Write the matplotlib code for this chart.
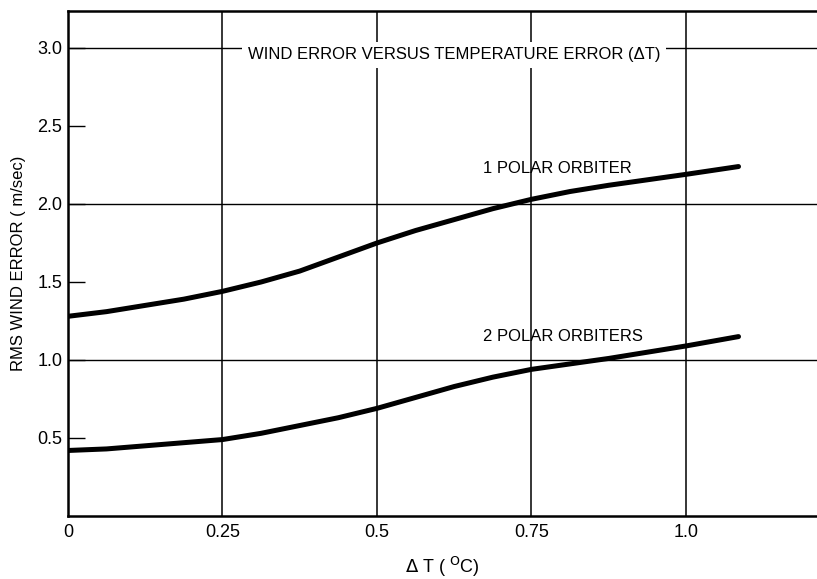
import matplotlib.pyplot as plt
import numpy as np

plt.rcParams['font.family'] = ['Liberation Sans', 'DejaVu Sans']

# curve: 1 polar orbiter
dt1 = [0, 0.0625, 0.125, 0.1875, 0.25, 0.3125, 0.375, 0.4375, 0.5, 0.5625,
       0.625, 0.6875, 0.75, 0.8125, 0.875, 0.9375, 1.0, 1.085]
err1 = [1.28, 1.31, 1.35, 1.39, 1.44, 1.50, 1.57, 1.66, 1.75, 1.83,
        1.90, 1.97, 2.03, 2.08, 2.12, 2.155, 2.19, 2.24]

# 2 polar orbiters
dt2 = [0, 0.0625, 0.125, 0.1875, 0.25, 0.3125, 0.375, 0.4375, 0.5, 0.5625,
       0.625, 0.6875, 0.75, 0.8125, 0.875, 0.9375, 1.0, 1.085]
err2 = [0.42, 0.43, 0.45, 0.47, 0.49, 0.53, 0.58, 0.63, 0.69, 0.76,
        0.83, 0.89, 0.94, 0.975, 1.01, 1.05, 1.09, 1.15]

xticks = [0, 0.25, 0.5, 0.75, 1.0]
xlabels = ['0', '0.25', '0.5', '0.75', '1.0']
yticks = [0.5, 1.0, 1.5, 2.0, 2.5, 3.0]
ylabels = ['0.5', '1.0', '1.5', '2.0', '2.5', '3.0']
grid_y = [1.0, 2.0, 3.0]

fig = plt.figure(figsize=(8.17, 5.79), dpi=100)
ax = fig.add_axes([0.0832, 0.1088, 0.9168, 0.8722])

ax.set_xlim(0, 1.212)
ax.set_ylim(0, 3.237)

for x in xticks[1:]:
    ax.axvline(x, color='k', lw=1.1, zorder=1)
for y in grid_y:
    ax.axhline(y, color='k', lw=1.0, zorder=1)

ax.plot(dt1, err1, color='k', lw=3.6, solid_capstyle='round', solid_joinstyle='round', zorder=3)
ax.plot(dt2, err2, color='k', lw=3.6, solid_capstyle='round', solid_joinstyle='round', zorder=3)

ax.text(0.625, 2.955, 'WIND ERROR VERSUS TEMPERATURE ERROR (ΔT)', ha='center', va='center',
        fontsize=12, zorder=5,
        bbox=dict(facecolor='white', edgecolor='none', pad=4))
ax.text(0.672, 2.23, '1 POLAR ORBITER', ha='left', va='center', fontsize=12, zorder=5)
ax.text(0.672, 1.15, '2 POLAR ORBITERS', ha='left', va='center', fontsize=12, zorder=5)

ax.set_xticks(xticks)
ax.set_xticklabels(xlabels)
ax.set_yticks(yticks)
ax.set_yticklabels(ylabels)
ax.tick_params(axis='x', length=0, pad=6, labelsize=13)
ax.tick_params(axis='y', direction='in', length=12, width=1.0, pad=4, labelsize=13)

ax.set_xlabel(r'$\Delta$ T ( $^{\rm O}$C)', fontsize=13, labelpad=10)
ax.set_ylabel('RMS WIND ERROR ( m/sec)', fontsize=12, labelpad=8)

ax.spines['right'].set_visible(False)
for s in ['left', 'top', 'bottom']:
    ax.spines[s].set_linewidth(1.8)

fig.savefig('out.png', dpi=100)
